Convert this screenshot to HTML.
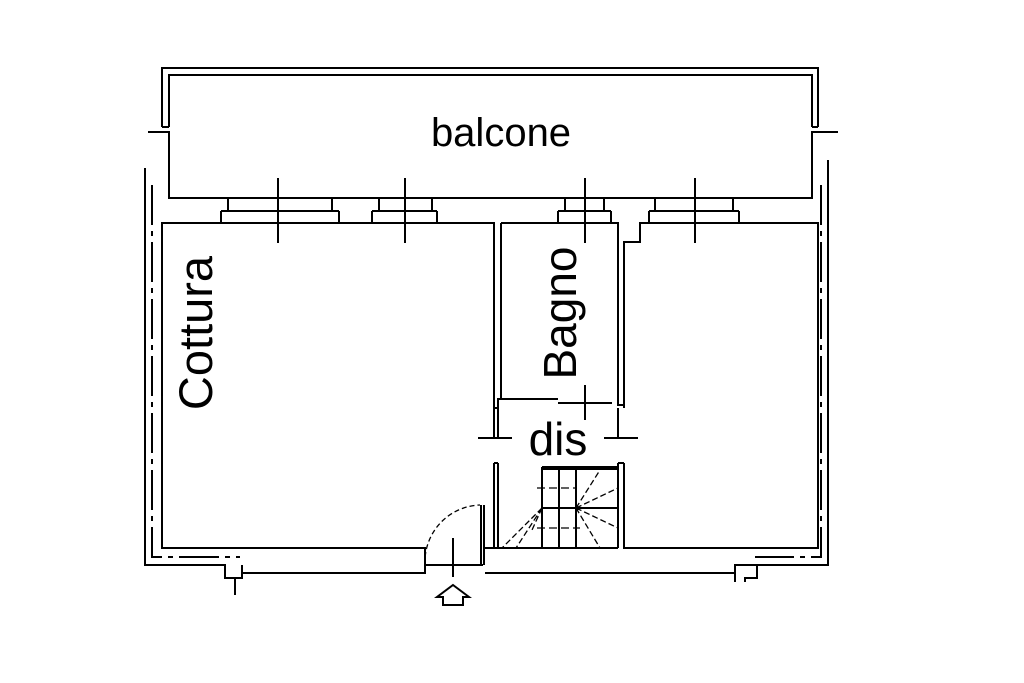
<!DOCTYPE html>
<html><head><meta charset="utf-8"><style>
html,body{margin:0;padding:0;background:#fff;}
svg{display:block;}
text{font-family:"Liberation Sans",sans-serif;fill:#000;}
</style></head><body>
<svg width="1024" height="683" viewBox="0 0 1024 683" xmlns="http://www.w3.org/2000/svg">
<g fill="none" stroke="#000" stroke-width="2">
<!-- balcony -->
<path d="M162 127 V68 H818 V127"/>
<path d="M169 127 V75 H812 V127"/>
<path d="M162 127 H169 M812 127 H818"/>
<path d="M148 132 H169 V198 H812 V132 H838"/>
<!-- windows -->
<path d="M228 198 V211 M332 198 V211 M221 211 H339 M221 211 V223 M339 211 V223"/>
<path d="M379 198 V211 M432 198 V211 M372 211 H437 M372 211 V223 M437 211 V223"/>
<path d="M565 198 V211 M604 198 V211 M558 211 H611 M558 211 V223 M611 211 V223"/>
<path d="M655 198 V211 M733 198 V211 M649 211 H739 M649 211 V223 M739 211 V223"/>
<path d="M278 178 V243 M405 178 V243 M585 178 V243 M695 178 V243"/>
<!-- cottura -->
<path d="M494 408 V223 H162 V548 H420"/>
<!-- bagno -->
<path d="M501 223 H618 V399 M501 223 V399 H558 M558 403 H612"/>
<path d="M494 408 H498 V399 H501"/>
<path d="M585 385 V420"/>
<!-- right room -->
<path d="M624 408 V242 H640 V223 H818 V548 H624 V463"/>
<path d="M618 399 V405 H624"/>
<!-- dis walls -->
<path d="M494 408 V438 M498 408 V438 M494 463 V548 M498 463 V548 M494 463 H498"/>
<path d="M618 408 V438 M618 463 V548 M624 463 V548 M618 463 H624"/>
<path d="M478 438 H512 M604 438 H638"/>
<!-- stairs -->
<path d="M542 467 H618 M542 469 H618 M542 467 V548 M559 467 V548 M576 467 V548 M542 508 H618 M498 548 H618"/>
<path d="M576 508 L600 470 M576 508 L618 488 M576 508 L618 528 M576 508 L600 548 M542 508 L502 548 M542 508 L516 548 M542 508 L532 530" stroke-width="1.3" stroke-dasharray="6 3"/>
<path d="M537 488 H575 M537 528 H580" stroke-width="1.3" stroke-dasharray="8 4"/>
<!-- outer walls -->
<path d="M145 168 V565 H225 V578 H235 V595"/>
<path d="M152 185 V557 H240" stroke-dasharray="40 6 5 6"/>
<path d="M828 160 V565 H757 V578 H745 V582"/>
<path d="M821 185 V557 H755" stroke-dasharray="40 6 5 6"/>
<path d="M242 565 V573 H425 V548 H420"/>
<path d="M485 548 H498 M485 573 H735 V582 M735 573 V565 H757"/>
<path d="M242 573 V565 M235 578 H242 V573"/>
<!-- door -->
<path d="M425 565 H483" />
<path d="M481 505 V565 M484 505 V565" stroke-width="2"/>
<path d="M425 565 A57 57 0 0 1 480 505" stroke-width="1.3" stroke-dasharray="5 3"/>
<path d="M453 538 V577"/>
<path d="M453 585 L469 597 H463 V605 H443 V597 H437 Z"/>
</g>
<text x="501" y="146" font-size="40" text-anchor="middle">balcone</text>
<text transform="translate(212,333) rotate(-90)" font-size="47" text-anchor="middle">Cottura</text>
<text transform="translate(576,313) rotate(-90)" font-size="46" text-anchor="middle">Bagno</text>
<text x="558" y="455" font-size="46" text-anchor="middle">dis</text>
</svg>
</body></html>
